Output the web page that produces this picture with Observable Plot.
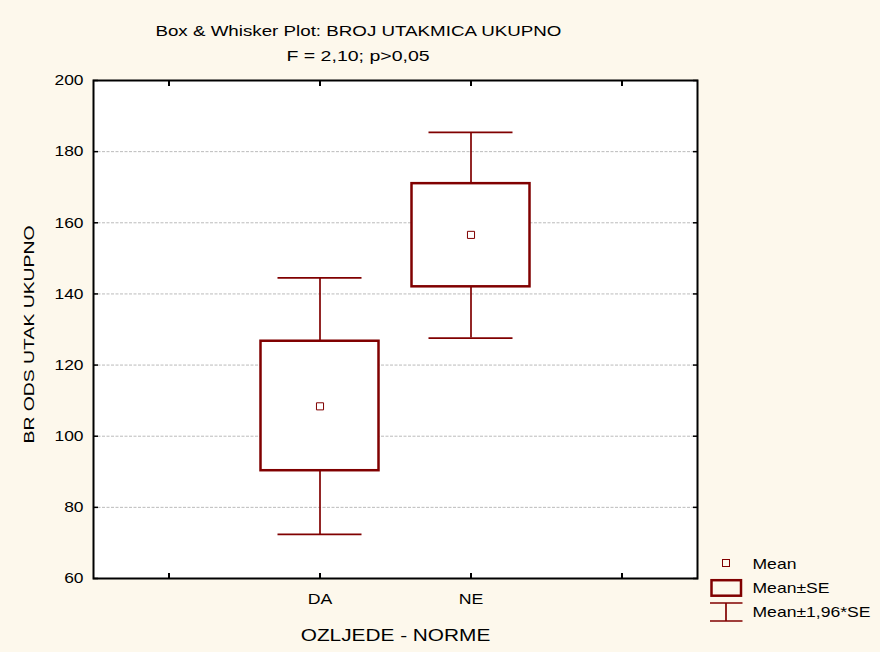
<!DOCTYPE html>
<html>
<head>
<meta charset="utf-8">
<script src="https://cdn.jsdelivr.net/npm/d3@7"></script>
<script src="https://cdn.jsdelivr.net/npm/@observablehq/plot@0.6"></script>
<style>
html, body { margin: 0; padding: 0; background: #fdf8ec; }
#wrap { position: relative; width: 880px; height: 652px; overflow: hidden;
  font-family: "Liberation Sans", Arial, sans-serif; color: #000; }
.hdr { position: relative; height: 64px; }
.t { position: absolute; left: 0; width: 716px; text-align: center; font-size: 15px;
  line-height: 15px; white-space: nowrap; }
.t span { display: inline-block; transform-origin: 50% 50%; }
#chart svg { display: block; }
#legend { position: absolute; left: 0; top: 0; pointer-events: none; }
</style>
</head>
<body>
<div id="wrap">
  <div class="hdr">
    <div class="t" style="top:23px"><span id="title" style="transform:scaleX(1.25)"></span></div>
    <div class="t" style="top:48px"><span id="subtitle" style="transform:scaleX(1.3)"></span></div>
  </div>
  <div id="chart"></div>
</div>
<script>
// ---- data ----
const titleText = "Box & Whisker Plot: BROJ UTAKMICA UKUPNO";
const subtitleText = "F = 2,10; p>0,05";
const yAxisLabel = "BR ODS UTAK UKUPNO";
const xAxisLabel = "OZLJEDE - NORME";
const categories = ["DA", "NE"];
const xSlots = ["_left", "DA", "NE", "_right"];
const meanValues = [108.4, 156.6];
const seLow = [90.3, 142.0];
const seHigh = [126.7, 171.0];
const ciLow = [72.4, 127.6];
const ciHigh = [144.5, 185.4];
const yTicks = [60, 80, 100, 120, 140, 160, 180, 200];
const gridValues = [80, 100, 120, 140, 160, 180];
const legendLabels = ["Mean", "Mean±SE", "Mean±1,96*SE"];

document.getElementById("title").textContent = titleText;
document.getElementById("subtitle").textContent = subtitleText;

const rows = categories.map((c, i) => ({
  cat: c, mean: meanValues[i], seLow: seLow[i], seHigh: seHigh[i], ciLow: ciLow[i], ciHigh: ciHigh[i]
}));

const RED = "#800000";
const chart = Plot.plot({
  width: 880,
  height: 588,
  marginLeft: 93,
  marginRight: 183,
  marginTop: 16,
  marginBottom: 74,
  style: { background: "transparent", fontFamily: '"Liberation Sans", Arial, sans-serif', fontSize: "15px", color: "#000" },
  x: { type: "band", domain: xSlots, padding: 0 },
  y: { domain: [60, 200] },
  marks: [
    Plot.frame({ fill: "white" }),
    Plot.gridY(gridValues, { stroke: "#bbbbbb", strokeOpacity: 1, strokeDasharray: "3,1.5", strokeWidth: 1 }),
    Plot.ruleX(rows, { x: "cat", y1: "ciLow", y2: "seLow", stroke: RED, strokeWidth: 1.7 }),
    Plot.ruleX(rows, { x: "cat", y1: "seHigh", y2: "ciHigh", stroke: RED, strokeWidth: 1.7 }),
    Plot.tickY(rows, { x: "cat", y: "ciLow", stroke: RED, strokeWidth: 1.7, insetLeft: 33.5, insetRight: 33.5 }),
    Plot.tickY(rows, { x: "cat", y: "ciHigh", stroke: RED, strokeWidth: 1.7, insetLeft: 33.5, insetRight: 33.5 }),
    Plot.barY(rows, { x: "cat", y1: "seLow", y2: "seHigh", fill: "white", stroke: RED, strokeWidth: 2.5, insetLeft: 16.5, insetRight: 16.5 }),
    Plot.dot(rows, { x: "cat", y: "mean", symbol: "square", r: 4, stroke: RED, strokeWidth: 1, fill: "white" }),
    Plot.axisY(yTicks, { anchor: "left", tickSize: -5, tickPadding: 15, strokeWidth: 1.5, label: null }),
    Plot.axisY(yTicks, { anchor: "right", tickSize: -5, strokeWidth: 1.5, tickFormat: () => "", label: null }),
    Plot.axisX({ anchor: "bottom", tickSize: -5, tickPadding: 20, strokeWidth: 2, tickFormat: d => d.startsWith("_") ? "" : d, label: null }),
    Plot.axisX({ anchor: "top", tickSize: -5, strokeWidth: 2, tickFormat: () => "", label: null }),
    Plot.text([yAxisLabel], { frameAnchor: "left", textAnchor: "middle", lineAnchor: "middle", rotate: -90, dx: -64, dy: 5, fontSize: 15 }),
    Plot.text([xAxisLabel], { frameAnchor: "bottom", textAnchor: "middle", lineAnchor: "middle", dy: 57, fontSize: 16 }),
    Plot.frame({ stroke: "black", strokeWidth: 2 })
  ]
});
document.getElementById("chart").append(chart);

function stretchEl(el, f) {
  const n = el.getComputedTextLength();
  if (n > 0) {
    el.setAttribute("textLength", (n * f).toFixed(2));
    el.setAttribute("lengthAdjust", "spacingAndGlyphs");
  }
}
d3.select(chart).selectAll("text").each(function () {
  const s = (this.textContent || "").trim();
  if (!s) return;
  if (s === yAxisLabel) stretchEl(this, 1.29);
  else if (s === xAxisLabel) stretchEl(this, 1.3);
  else if (/^\d+$/.test(s)) stretchEl(this, 1.16);
  else if (categories.includes(s)) stretchEl(this, 1.18);
});

// ---- legend ----
const leg = d3.select("#wrap").append("svg").attr("id", "legend").attr("width", 880).attr("height", 652);
leg.append("rect").attr("x", 722.5).attr("y", 559.5).attr("width", 7).attr("height", 7)
  .attr("fill", "none").attr("stroke", RED).attr("stroke-width", 1);
leg.append("rect").attr("x", 711.5).attr("y", 580.2).attr("width", 29.5).attr("height", 15.5)
  .attr("fill", "none").attr("stroke", RED).attr("stroke-width", 2.5);
leg.append("line").attr("x1", 710).attr("x2", 742.5).attr("y1", 603).attr("y2", 603).attr("stroke", RED).attr("stroke-width", 1.7);
leg.append("line").attr("x1", 710).attr("x2", 742.5).attr("y1", 621).attr("y2", 621).attr("stroke", RED).attr("stroke-width", 1.7);
leg.append("line").attr("x1", 726).attr("x2", 726).attr("y1", 603).attr("y2", 621).attr("stroke", RED).attr("stroke-width", 1.7);
const legY = [563.5, 588, 612];
const legText = leg.selectAll("text.lg").data(legendLabels).join("text")
  .attr("class", "lg")
  .attr("x", 752.5)
  .attr("y", (d, i) => legY[i] + 5.4)
  .attr("font-family", '"Liberation Sans", Arial, sans-serif')
  .attr("font-size", 15)
  .attr("fill", "#000")
  .text(d => d);
legText.each(function () { stretchEl(this, 1.17); });
</script>
</body>
</html>
